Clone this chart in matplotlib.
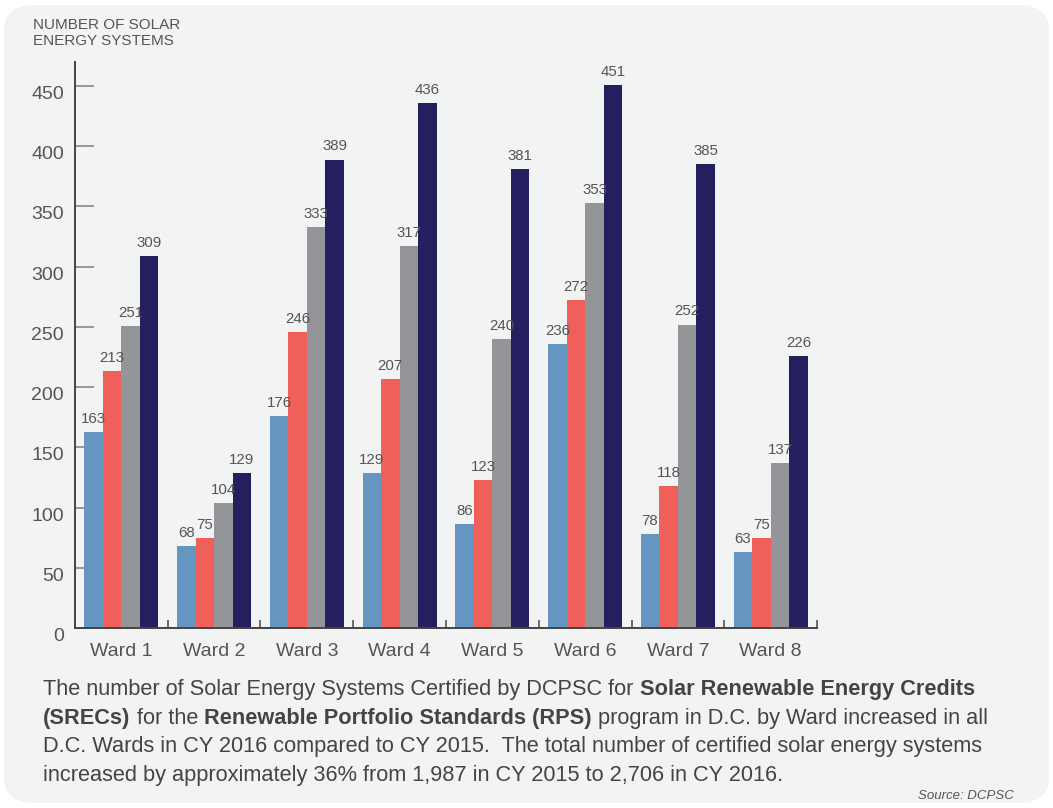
import matplotlib
matplotlib.use('Agg')
import matplotlib.pyplot as plt
from matplotlib.patches import FancyBboxPatch
import numpy as np

plt.rcParams['font.family'] = ['Liberation Sans', 'DejaVu Sans']

# data
wards = ['Ward 1', 'Ward 2', 'Ward 3', 'Ward 4', 'Ward 5', 'Ward 6', 'Ward 7', 'Ward 8']
cy2013 = [163, 68, 176, 129, 86, 236, 78, 63]
cy2014 = [213, 75, 246, 207, 123, 272, 118, 75]
cy2015 = [251, 104, 333, 317, 240, 353, 252, 137]
cy2016 = [309, 129, 389, 436, 381, 451, 385, 226]
yticks = [0, 50, 100, 150, 200, 250, 300, 350, 400, 450]

series = [
    ('CY 2013', cy2013, '#6596c2'),
    ('CY 2014', cy2014, '#f0605a'),
    ('CY 2015', cy2015, '#939598'),
    ('CY 2016', cy2016, '#251f5f'),
]

fig = plt.figure(figsize=(10.53, 8.08), dpi=100)
fig.patch.set_facecolor('white')
bg = FancyBboxPatch((0.004, 0.006), 0.992, 0.988, transform=fig.transFigure,
                    boxstyle='round,pad=0,rounding_size=0.03',
                    facecolor='#f2f3f3', edgecolor='none', zorder=-5)
fig.patches.append(bg)

ax = fig.add_axes([0.0712, 0.2228, 0.7047, 0.7005])
ax.set_facecolor('none')

x = np.arange(len(wards))
w = 0.2
for i, (name, vals, col) in enumerate(series):
    bars = ax.bar(x + (i - 1.5) * w, vals, w, color=col, label=name, zorder=2)
    for b, v in zip(bars, vals):
        ax.text(b.get_x() + b.get_width() / 2, v + 5, str(v), ha='center', va='bottom',
                fontsize=10.8, color='#555555')

ax.set_xlim(-0.5, 7.5)
ax.set_ylim(0, 470)
ax.set_yticks(yticks)
ax.set_yticklabels([str(t) for t in yticks], fontsize=14, color='#555555', va='top')
ax.tick_params(axis='y', direction='in', length=14, width=1.2, color='#888888', pad=8)
ax.set_xticks(x)
ax.set_xticklabels(wards, fontsize=14, color='#555555')
ax.tick_params(axis='x', which='major', length=0, pad=11)
ax.set_xticks(np.arange(0.5, 8, 1), minor=True)
ax.tick_params(axis='x', which='minor', direction='in', length=6, width=1.2, color='#555555')

for s in ['top', 'right']:
    ax.spines[s].set_visible(False)
for s in ['left', 'bottom']:
    ax.spines[s].set_color('#444444')
    ax.spines[s].set_linewidth(1.4)

fig.text(0.031, 0.940, 'NUMBER OF SOLAR\nENERGY SYSTEMS', fontsize=11, color='#555555',
         ha='left', va='bottom', linespacing=1.25)

# caption with bold segments
lines = [
    [('The number of Solar Energy Systems Certified by DCPSC for ', 'normal'),
     ('Solar Renewable Energy Credits', 'bold')],
    [('(SRECs)', 'bold'), (' for the ', 'normal'),
     ('Renewable Portfolio Standards (RPS)', 'bold'),
     (' program in D.C. by Ward increased in all', 'normal')],
    [('D.C. Wards in CY 2016 compared to CY 2015.  The total number of certified solar energy systems', 'normal')],
    [('increased by approximately 36% from 1,987 in CY 2015 to 2,706 in CY 2016.', 'normal')],
]
renderer = fig.canvas.get_renderer()
W = fig.get_figwidth() * fig.dpi
y0 = 0.140
dy = 0.0355
for k, segs in enumerate(lines):
    yy = y0 - k * dy
    xx = 0.041
    for txt, wt in segs:
        t = fig.text(xx, yy, txt, fontsize=15.7, fontweight=wt, color='#444444',
                     ha='left', va='baseline')
        ext = t.get_window_extent(renderer)
        xx += ext.width / W

fig.text(0.963, 0.007, 'Source: DCPSC', fontsize=9.5, style='italic', color='#555555',
         ha='right', va='bottom')

fig.savefig('out.png', dpi=100, facecolor=fig.get_facecolor())
